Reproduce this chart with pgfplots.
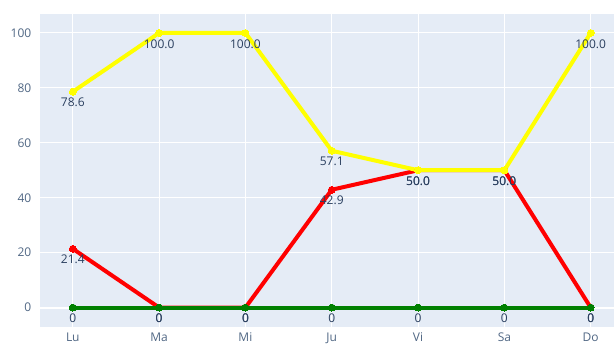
\documentclass[border=0pt]{standalone}
\usepackage{pgfplots}
\pgfplotsset{compat=1.18}
\usepackage{fontspec}
\setmainfont{Open Sans}
\usetikzlibrary{calc}
\definecolor{bgc}{HTML}{E5ECF6}
\definecolor{txt}{HTML}{2A3F5F}
\definecolor{ticktxt}{HTML}{506784}
\definecolor{pyellow}{HTML}{FFFF00}
\definecolor{pred}{HTML}{FF0000}
\definecolor{pgreen}{HTML}{008000}

\begin{document}
\begin{tikzpicture}
\begin{axis}[
  scale only axis, width=430.5pt, height=235pt,
  xmin=-0.38, xmax=6.27, ymin=-7.2, ymax=106.9,
  axis background/.style={fill=bgc},
  axis line style={draw=none},
  xtick={0,...,6}, xticklabels={Lu,Ma,Mi,Ju,Vi,Sa,Do},
  ytick={20,40,...,100},
  extra y ticks={0},
  extra tick style={major grid style={white, line width=1.5pt}},
  major tick length=0pt,
  grid=major, major grid style={white, line width=0.75pt},
  tick label style={font=\fontsize{9}{11}\selectfont, text=ticktxt},
  /pgf/number format/assume math mode=true,
  xticklabel style={yshift=-0.5pt},
  yticklabel style={xshift=-3pt},
  clip=false,
  point meta=explicit symbolic,
  nodes near coords,
  every node near coord/.append style={anchor=north, font=\fontsize{9}{11}\selectfont, text=txt, yshift=-1.5pt},
  every axis plot/.append style={line width=3pt, mark=*, mark size=2.6pt},
]
% Series 2 (red)
\addplot[color=pred, mark options={fill=pred, draw=pred, line width=0pt}]
  coordinates {(0,21.4)[21.4] (1,0)[0] (2,0)[0] (3,42.9)[42.9] (4,50)[50.0] (5,50)[50.0] (6,0)[0]};
% Series 1 (yellow)
\addplot[color=pyellow, mark options={fill=pyellow, draw=pyellow, line width=0pt}]
  coordinates {(0,78.6)[78.6] (1,100)[100.0] (2,100)[100.0] (3,57.1)[57.1] (4,50)[50.0] (5,50)[50.0] (6,100)[100.0]};
% Series 3 (green)
\addplot[color=pgreen, mark options={fill=pgreen, draw=pgreen, line width=0pt}]
  coordinates {(0,0)[0] (1,0)[0] (2,0)[0] (3,0)[0] (4,0)[0] (5,0)[0] (6,0)[0]};
\end{axis}
\pgfresetboundingbox
\path ($(current axis.south west)+(-30pt,-13.25pt)$) rectangle ($(current axis.north east)+(0,10.5pt)$);
\end{tikzpicture}
\end{document}
